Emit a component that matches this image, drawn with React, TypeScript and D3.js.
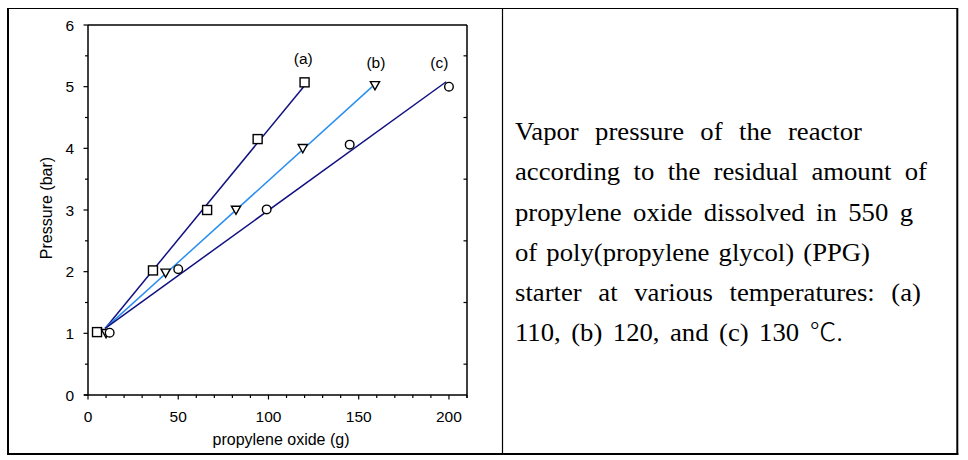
import React, { useEffect, useRef } from "react";
import * as d3 from "d3";

// ---- data ----
const seriesAX = [5, 36, 66, 94, 120];
const seriesAY = [1.02, 2.02, 3.0, 4.15, 5.07];
const seriesBX = [10, 43, 82, 119, 159];
const seriesBY = [1.0, 1.98, 3.0, 4.0, 5.02];
const seriesCX = [12, 50, 99, 145, 200];
const seriesCY = [1.01, 2.04, 3.01, 4.06, 5.0];

const fitAX = [9.5, 119.5];
const fitAY = [1.08, 5.0];
const fitBX = [9.5, 157.5];
const fitBY = [1.08, 5.0];
const fitCX = [9.5, 198.5];
const fitCY = [1.08, 5.08];

const seriesLabels = ["(a)", "(b)", "(c)"];
const labelX = [119.3, 159.5, 194.7];
const labelY = [5.37, 5.3, 5.3];

const xTicks = [0, 50, 100, 150, 200];
const yTicks = [0, 1, 2, 3, 4, 5, 6];
const xLabel = "propylene oxide (g)";
const yLabel = "Pressure (bar)";

const captionLines = [
  "Vapor pressure of the reactor",
  "according to the residual amount of",
  "propylene oxide dissolved in 550 g",
  "of poly(propylene glycol) (PPG)",
  "starter at various temperatures: (a)",
  "110, (b) 120, and (c) 130 ",
];
const captionTail = ["", "", "", "", "", "℃."];

// ---- layout ----
const W = 968;
const H = 460;
const plot = { left: 88, right: 467, top: 25, bottom: 395 };
const navy = "#101080";
const lightBlue = "#2a8ff0";
const sansFont = "'Liberation Sans', Arial, sans-serif";
const serifFont = "'Liberation Serif', 'Times New Roman', serif";
const captionLeft = 515;
const captionRights = [862, 927, 913, 870, 921, 843];
const captionBase = 140;
const captionStep = 40.3;
const captionScaleX = 1.09;

const x = d3.scaleLinear().domain([0, 210]).range([plot.left, plot.right]);
const y = d3.scaleLinear().domain([0, 6]).range([plot.bottom, plot.top]);

const xMinor = d3.range(0, 211, 10);
const yMinor = d3.range(0.5, 6, 1);

const line = d3
  .line<[number, number]>()
  .x((d) => x(d[0]))
  .y((d) => y(d[1]));

const zip = (xs: number[], ys: number[]) => xs.map((v, i) => [v, ys[i]] as [number, number]);

export default function App() {
  const captionRef = useRef<SVGGElement>(null);

  useEffect(() => {
    if (!captionRef.current) return;
    d3.select(captionRef.current)
      .selectAll<SVGTextElement, unknown>("text")
      .each(function (_d, i) {
        const el = this as SVGTextElement;
        el.style.wordSpacing = "0px";
        const natural = el.getComputedTextLength();
        const full = captionLines[i] + captionTail[i];
        const spaces = (full.match(/ /g) || []).length;
        const target = (captionRights[i] - captionLeft) / captionScaleX;
        const extra = spaces ? (target - natural) / spaces : 0;
        el.style.wordSpacing = `${Math.max(0, extra)}px`;
      });
  }, []);

  const squares = zip(seriesAX, seriesAY);
  const triangles = zip(seriesBX, seriesBY);
  const circles = zip(seriesCX, seriesCY);

  return (
    <svg
      width={W}
      height={H}
      style={{ position: "absolute", left: 0, top: 0, display: "block", background: "#fff" }}
    >
      {/* outer table frame */}
      <line x1={8} x2={957.5} y1={8.5} y2={8.5} stroke="#000" strokeWidth={1.2} />
      <line x1={8} x2={8} y1={8} y2={455} stroke="#000" strokeWidth={2} />
      <line x1={957.3} x2={957.3} y1={8} y2={455} stroke="#000" strokeWidth={2} />
      <line x1={7} x2={958.3} y1={454} y2={454} stroke="#000" strokeWidth={2} />
      <line x1={502.5} x2={502.5} y1={8} y2={454} stroke="#000" strokeWidth={1.2} />

      {/* plot frame */}
      <g stroke="#000" strokeWidth={1.5} fill="none">
        <line x1={plot.left} x2={plot.right} y1={plot.top} y2={plot.top} />
        <line x1={plot.left} x2={plot.left} y1={plot.top} y2={plot.bottom} />
        <line x1={plot.right} x2={plot.right} y1={plot.top} y2={plot.bottom + 3} />
        <line x1={plot.left - 4} x2={plot.right} y1={plot.bottom} y2={plot.bottom} />
      </g>

      {/* ticks */}
      <g stroke="#000" strokeWidth={1.2}>
        {yTicks.map((t) => (
          <line key={"yt" + t} x1={plot.left - 4.5} x2={plot.left} y1={y(t)} y2={y(t)} />
        ))}
        {yMinor.map((t) => (
          <line key={"ym" + t} x1={plot.left - 3} x2={plot.left} y1={y(t)} y2={y(t)} />
        ))}
        {yMinor.map((t) => (
          <line key={"yr" + t} x1={plot.right - 3.5} x2={plot.right} y1={y(t)} y2={y(t)} />
        ))}
        {xMinor.map((t) => (
          <line
            key={"xm" + t}
            x1={x(t)}
            x2={x(t)}
            y1={plot.bottom}
            y2={plot.bottom + (t % 50 === 0 ? 4.5 : 3)}
          />
        ))}
      </g>

      {/* tick labels */}
      <g fontFamily={sansFont} fontSize={15.5} fill="#000">
        {yTicks.map((t) => (
          <text key={"yl" + t} x={74} y={y(t)} dy="0.36em" textAnchor="end">
            {t}
          </text>
        ))}
        {xTicks.map((t) => (
          <text key={"xl" + t} x={x(t)} y={422} textAnchor="middle">
            {t}
          </text>
        ))}
      </g>
      <g fontFamily={sansFont} fontSize={16} fill="#000">
        <text x={281} y={445} textAnchor="middle">
          {xLabel}
        </text>
        <text transform={`translate(52,${208}) rotate(-90)`} textAnchor="middle">
          {yLabel}
        </text>
      </g>

      {/* fit lines */}
      <path d={line(zip(fitAX, fitAY)) || ""} stroke={navy} strokeWidth={1.5} fill="none" />
      <path d={line(zip(fitBX, fitBY)) || ""} stroke={lightBlue} strokeWidth={1.5} fill="none" />
      <path d={line(zip(fitCX, fitCY)) || ""} stroke={navy} strokeWidth={1.5} fill="none" />

      {/* markers */}
      <g stroke="#000" strokeWidth={1.4} fill="#fff">
        {squares.map((d, i) => (
          <rect key={"sq" + i} x={x(d[0]) - 4.5} y={y(d[1]) - 4.5} width={9} height={9} />
        ))}
        {triangles.map((d, i) => (
          <path
            key={"tr" + i}
            transform={`translate(${x(d[0])},${y(d[1])})`}
            d="M-4.6,-3.8L4.6,-3.8L0,4.4Z"
          />
        ))}
        {circles.map((d, i) => (
          <circle key={"ci" + i} cx={x(d[0])} cy={y(d[1])} r={4.3} />
        ))}
      </g>

      {/* series labels */}
      <g fontFamily={sansFont} fontSize={15.5} fill="#000" textAnchor="middle">
        {seriesLabels.map((s, i) => (
          <text key={s} x={x(labelX[i])} y={y(labelY[i])}>
            {s}
          </text>
        ))}
      </g>

      {/* caption */}
      <g
        ref={captionRef}
        transform={`translate(${captionLeft},0) scale(${captionScaleX},1) translate(${-captionLeft},0)`}
        fontFamily={serifFont}
        fontSize={24.5}
        fill="#000"
      >
        {captionLines.map((s, i) => (
          <text key={i} x={captionLeft} y={captionBase + captionStep * i}>
            {s}
            {captionTail[i] ? (
              <tspan fontFamily="'Noto Sans CJK KR', 'Noto Sans CJK SC', sans-serif" fontWeight={300}>
                {captionTail[i]}
              </tspan>
            ) : null}
          </text>
        ))}
      </g>
    </svg>
  );
}
